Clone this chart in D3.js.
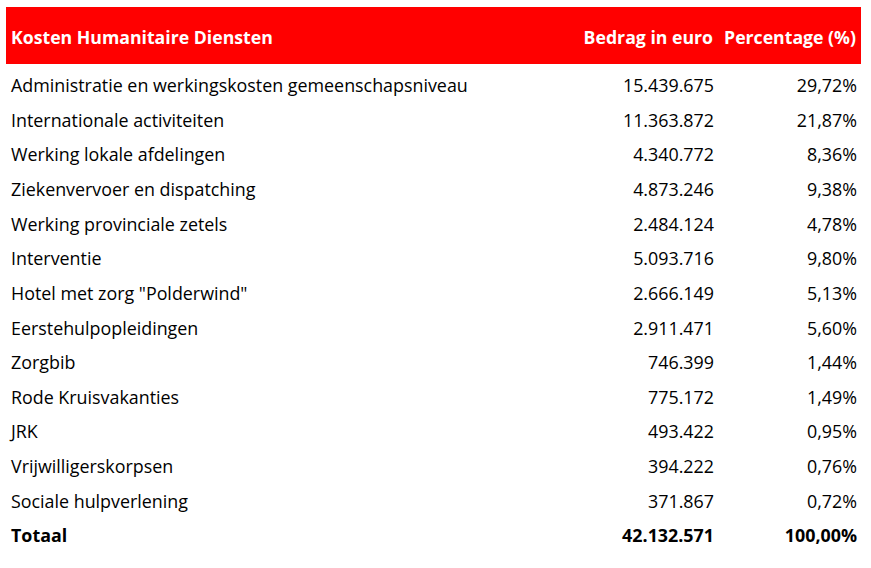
<!DOCTYPE html>
<html>
<head>
<meta charset="utf-8">
<script src="https://cdn.jsdelivr.net/npm/d3@7"></script>
<style>
  body { margin: 0; background: #fff; }
  text { font-family: "Open Sans", "Noto Sans", sans-serif; }
</style>
</head>
<body>
<script>
let width = 871
let height = 568

// data
const categories = [
  'Administratie en werkingskosten gemeenschapsniveau',
  'Internationale activiteiten',
  'Werking lokale afdelingen',
  'Ziekenvervoer en dispatching',
  'Werking provinciale zetels',
  'Interventie',
  'Hotel met zorg "Polderwind"',
  'Eerstehulpopleidingen',
  'Zorgbib',
  'Rode Kruisvakanties',
  'JRK',
  'Vrijwilligerskorpsen',
  'Sociale hulpverlening'
]
const amounts = [15439675, 11363872, 4340772, 4873246, 2484124, 5093716, 2666149, 2911471, 746399, 775172, 493422, 394222, 371867]
const percentages = [29.72, 21.87, 8.36, 9.38, 4.78, 9.80, 5.13, 5.60, 1.44, 1.49, 0.95, 0.76, 0.72]
const headers = ['Kosten Humanitaire Diensten', 'Bedrag in euro', 'Percentage (%)']
const totalLabel = 'Totaal'
const totalAmount = 42132571
const totalPercentage = 100.00

const nl = d3.formatLocale({ decimal: ',', thousands: '.', grouping: [3], currency: ['€', ''] })
const fmtAmount = nl.format(',d')
const fmtPct = (v) => nl.format(',.2f')(v) + '%'

const rows = categories.map((c, i) => ({ label: c, amount: fmtAmount(amounts[i]), pct: fmtPct(percentages[i]), bold: false }))
rows.push({ label: totalLabel, amount: fmtAmount(totalAmount), pct: fmtPct(totalPercentage), bold: true })

const svg = d3.select('body').append('svg')
  .attr('width', width)
  .attr('height', height)

// header band
svg.append('rect')
  .attr('x', 6).attr('y', 7)
  .attr('width', 855).attr('height', 57)
  .attr('fill', '#ff0000')

const colX = [11, 714, 857]
const anchors = ['start', 'end', 'end']

// fit a font size so a text string gets a target width
function fit(sel, target) {
  const w = sel.node().getComputedTextLength()
  const fs = parseFloat(sel.attr('font-size'))
  sel.attr('font-size', fs * target / w)
}

const head = svg.append('g')
headers.forEach((h, i) => {
  head.append('text')
    .attr('x', colX[i] + (i ? -1 : 0))
    .attr('y', 38)
    .attr('dy', '0.35em')
    .attr('text-anchor', anchors[i])
    .attr('fill', '#fff')
    .attr('font-weight', 'bold')
    .attr('font-size', 17)
    .text(h)
})
fit(head.select('text'), 262)
head.selectAll('text').attr('font-size', head.select('text').attr('font-size'))

const y = d3.scalePoint()
  .domain(d3.range(rows.length))
  .range([86, 536])

const body = svg.append('g')
const rowG = body.selectAll('g')
  .data(rows)
  .join('g')
  .attr('transform', (d, i) => `translate(0,${y(i)})`)

rowG.append('text')
  .attr('class', 'lbl')
  .attr('x', colX[0])
  .attr('dy', '0.35em')
  .attr('font-size', 17)
  .attr('font-weight', (d) => d.bold ? 'bold' : 'normal')
  .attr('fill', '#000')
  .text((d) => d.label)

rowG.append('text')
  .attr('class', 'amt')
  .attr('x', colX[1])
  .attr('dy', '0.35em')
  .attr('text-anchor', 'end')
  .attr('font-size', 17)
  .attr('font-weight', (d) => d.bold ? 'bold' : 'normal')
  .attr('fill', '#000')
  .text((d) => d.amount)

rowG.append('text')
  .attr('class', 'pct')
  .attr('x', colX[2])
  .attr('dy', '0.35em')
  .attr('text-anchor', 'end')
  .attr('font-size', 17)
  .attr('font-weight', (d) => d.bold ? 'bold' : 'normal')
  .attr('fill', '#000')
  .text((d) => d.pct)

const first = body.select('text.lbl')
fit(first, 457)
body.selectAll('text').attr('font-size', first.attr('font-size'))
</script>
</body>
</html>
